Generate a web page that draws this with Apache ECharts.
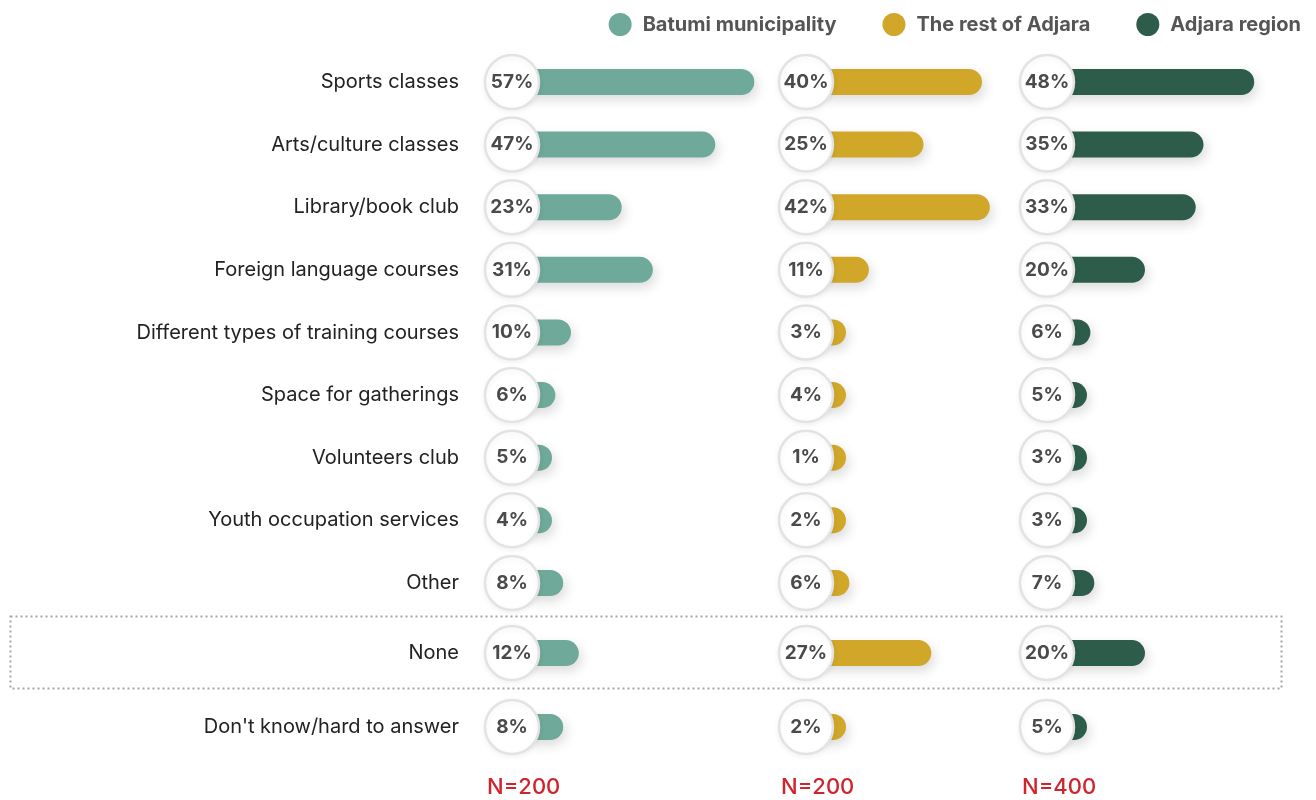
<!DOCTYPE html>
<html>
<head>
<meta charset="utf-8">
<script src="https://cdn.jsdelivr.net/npm/echarts@6/dist/echarts.min.js"></script>
<style>
  html, body { margin: 0; padding: 0; background: #fff; }
  #chart { width: 1316px; height: 800px; }
</style>
</head>
<body>
<div id="chart"></div>
<script>
// categories, top to bottom
const categories = [
  "Sports classes",
  "Arts/culture classes",
  "Library/book club",
  "Foreign language courses",
  "Different types of training courses",
  "Space for gatherings",
  "Volunteers club",
  "Youth occupation services",
  "Other",
  "None",
  "Don't know/hard to answer",
];
const seriesNames = ["Batumi municipality", "The rest of Adjara", "Adjara region"];
const batumi = [57, 47, 23, 31, 10, 6, 5, 4, 8, 12, 8];
const restOfAdjara = [40, 25, 42, 11, 3, 4, 1, 2, 6, 27, 2];
const adjaraRegion = [48, 35, 33, 20, 6, 5, 3, 3, 7, 20, 5];
const sampleSizes = ["N=200", "N=200", "N=400"];

const colors = ["#6ea99a", "#d1a72a", "#2e5c4b"];
const panelCenters = [512, 806, 1047]; // x of the value circles
const FONT = "Inter, 'Liberation Sans', Arial, sans-serif";

// rows after "Other" are set apart a little
const rowPos = (i) => i + (i >= 9 ? 0.12 : 0) + (i >= 10 ? 0.18 : 0);

const renderBar = (panel) => (params, api) => {
  const v = api.value(0);
  const y = api.value(1);
  const idx = api.value(2);
  const c = api.coord([0, y]);
  const e = api.coord([v, y]);
  const cx = c[0], cy = c[1];
  const end = Math.max(e[0] + 20, cx + 40);
  const children = [
    {
      type: "rect",
      shape: { x: cx, y: cy - 13, width: end - cx, height: 26, r: [0, 13, 13, 0] },
      style: {
        fill: colors[panel],
        shadowBlur: 12,
        shadowColor: "rgba(0,0,0,0.14)",
        shadowOffsetX: 3,
        shadowOffsetY: 5,
      },
    },
    {
      type: "circle",
      shape: { cx: cx, cy: cy, r: 27 },
      style: {
        fill: "#fff",
        stroke: "#e3e3e3",
        lineWidth: 2.5,
        shadowBlur: 6,
        shadowColor: "rgba(0,0,0,0.06)",
        shadowOffsetY: 2,
      },
    },
    {
      type: "text",
      style: {
        text: v + "%",
        x: cx,
        y: cy,
        align: "center",
        verticalAlign: "middle",
        font: "bold 19px " + FONT,
        fill: "#4a4a4a",
      },
    },
  ];
  if (panel === 0) {
    children.push({
      type: "text",
      style: {
        text: categories[idx],
        x: cx - 53,
        y: cy,
        align: "right",
        verticalAlign: "middle",
        font: "20px " + FONT,
        fill: "#222",
      },
    });
    if (categories[idx] === "None") {
      children.unshift({
        type: "rect",
        shape: { x: 10.5, y: cy - 36.5, width: 1271, height: 72 },
        style: { fill: "none", stroke: "#a5a5a5", lineWidth: 2, lineDash: [2, 3] },
      });
    }
  }
  return { type: "group", children: children };
};

const valueSets = [batumi, restOfAdjara, adjaraRegion];

var chartDom = document.getElementById("chart");
var myChart = echarts.init(chartDom);

var option = {
  animation: false,
  legend: {
    top: 8,
    right: 10,
    icon: "circle",
    itemWidth: 23,
    itemHeight: 23,
    itemGap: 46,
    textStyle: {
      fontFamily: FONT,
      fontSize: 20,
      fontWeight: "bold",
      color: "#555",
      padding: [0, 0, 0, 6],
    },
    data: seriesNames,
  },
  grid: panelCenters.map((x) => ({ left: x, width: 234, top: 82, height: 645 })),
  xAxis: panelCenters.map((x, i) => ({
    type: "value",
    gridIndex: i,
    min: 0,
    max: 60,
    show: false,
  })),
  yAxis: panelCenters.map((x, i) => ({
    type: "value",
    gridIndex: i,
    min: 0,
    max: 10.3,
    inverse: true,
    show: false,
  })),
  series: valueSets.map((vals, p) => ({
    name: seriesNames[p],
    type: "custom",
    xAxisIndex: p,
    yAxisIndex: p,
    itemStyle: { color: colors[p] },
    renderItem: renderBar(p),
    encode: { x: 0, y: 1 },
    data: vals.map((v, i) => [v, rowPos(i), i]),
  })),
  graphic: sampleSizes.map((t, i) => ({
    type: "text",
    left: panelCenters[i] - 25,
    top: 776,
    style: { text: t, font: "500 22px " + FONT, fill: "#d0242d" },
  })),
};
myChart.setOption(option);
</script>
</body>
</html>
